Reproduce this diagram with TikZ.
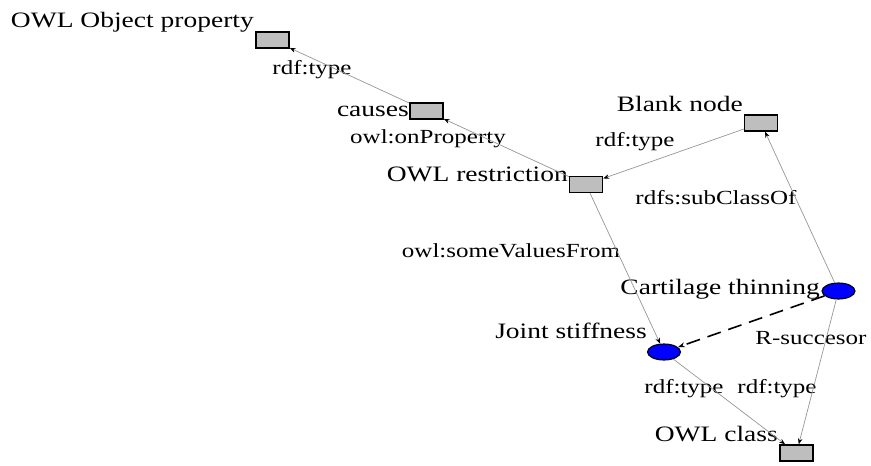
\documentclass[tikz,border=0pt]{standalone}
\usepackage{fontspec}
\setmainfont{Liberation Serif}[FakeStretch=1.25]
\usetikzlibrary{arrows.meta,shapes.geometric}
\definecolor{boxgray}{RGB}{190,190,190}
\definecolor{edgegray}{RGB}{150,150,150}
\tikzset{
    %Define style for class boxes
    classbox/.style={
           rectangle,
           draw=black, line width=1.4pt,
           fill=boxgray,
           minimum width=33pt,
           minimum height=16pt,
           inner sep=0pt},
    %Define style for the blue nodes
    instnode/.style={
           ellipse,
           draw=black, line width=1.1pt,
           fill=blue,
           minimum width=33pt,
           minimum height=16pt,
           inner sep=0pt},
    %Define style for texts
    nodetext/.style={
           anchor=base east,
           inner sep=0pt,
           font=\fontsize{22}{24}\selectfont},
    edgetext/.style={
           inner sep=0pt,
           font=\fontsize{20}{22}\selectfont},
    % Define arrow style
    pil/.style={
           -{Stealth[length=6pt,width=4.5pt,black]},
           draw=edgegray,
           line width=0.7pt},
    dashpil/.style={
           -{Stealth[length=7pt,width=5pt]},
           draw=black,
           line width=1.6pt,
           dash pattern=on 14pt off 8pt}
}

\begin{document}
\begin{tikzpicture}[x=1pt,y=-1pt]
\useasboundingbox (0,0) rectangle (871,466);

 %nodes
\node[classbox](objprop) at (272.5,40){};
\node[classbox](causes) at (426.5,111){};
\node[classbox](restr) at (586,184.5){};
\node[classbox](blank) at (761,123){};
\node[instnode](cart) at (838.5,291){};
\node[instnode](joint) at (664,352){};
\node[classbox](owlclass) at (796.5,453){};

 %node texts
\node[nodetext](objprop-t) at (254,27){OWL Object property};
\node[nodetext](causes-t) at (409,116){causes};
\node[nodetext](restr-t) at (568,181){OWL restriction};
\node[nodetext](blank-t) at (743,111){Blank node};
\node[nodetext](cart-t) at (820,294){Cartilage thinning};
\node[nodetext](joint-t) at (647,338){Joint stiffness};
\node[nodetext](owlclass-t) at (778,441){OWL class};

 %edge texts
\node[edgetext](e1) at (312,70){rdf:type};
\node[edgetext](e2) at (428,139){owl:onProperty};
\node[edgetext](e3) at (635,142){rdf:type};
\node[edgetext](e4) at (716,198){rdfs:subClassOf};
\node[edgetext](e5) at (511,251){owl:someValuesFrom};
\node[edgetext](e6) at (811,338){R-succesor};
\node[edgetext](e7) at (684,389){rdf:type};
\node[edgetext](e8) at (777,389){rdf:type};

 \path[pil]
    (causes) edge (objprop)
    (restr) edge (causes)
    (blank) edge (restr)
    (cart) edge (blank)
    (restr) edge (joint)
    (joint) edge (owlclass)
    (cart) edge (owlclass);
 \draw[dashpil] (cart) -- (joint);

\end{tikzpicture}
\end{document}
